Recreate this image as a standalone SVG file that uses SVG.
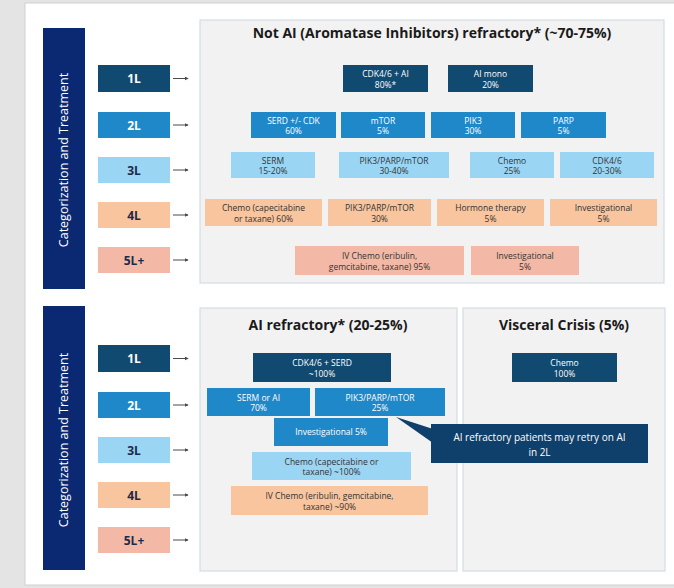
<svg xmlns="http://www.w3.org/2000/svg" width="674" height="588" viewBox="0 0 674 588">
<defs>
<style>
text{font-family:"Open Sans","Liberation Sans",Arial,sans-serif;text-anchor:middle}
.bar{fill:#0b2872}
.vt{fill:#fff;font-size:12.5px}
.panel{fill:#f2f2f2;stroke:#d3dde6;stroke-width:1.2}
.ptitle{font-weight:bold;fill:#1a1a1a;font-size:14px}
.ptitle2{font-weight:bold;fill:#1a1a1a;font-size:14px}
.lbl{font-weight:bold;font-size:12px}
.c1{fill:#114a70}
.c2{fill:#1f88c9}
.c3{fill:#9bd5f4}
.c4{fill:#f9c59e}
.c5{fill:#f3b9a6}
.tw{fill:#fff;font-size:8.5px}
.td{fill:#333;font-size:8.5px}
.lw{fill:#fff}
.ld{fill:#1b2a4a}
.conn{stroke:#4a4a4a;stroke-width:1;fill:none}
</style>
<marker id="ah" viewBox="0 0 6 6" refX="5" refY="3" markerWidth="4" markerHeight="4" orient="auto"><path d="M0,0L6,3L0,6z" fill="#4a4a4a"/></marker>
</defs>
<rect x="0" y="0" width="674" height="588" fill="#e4e4e4"/>
<rect x="25" y="3" width="652" height="582" fill="#ffffff" stroke="#d0d0d0"/>

<g id="sidebar-top"><rect class="bar" x="43" y="28" width="42" height="261"/><text class="vt" transform="translate(68,160) rotate(-90)">Categorization and Treatment</text></g>
<g id="sidebar-bottom"><rect class="bar" x="43" y="306" width="42" height="264"/><text class="vt" transform="translate(68,440) rotate(-90)">Categorization and Treatment</text></g>

<g id="panel-notai"><rect class="panel" x="200" y="20" width="464" height="263"/><text class="ptitle" x="432" y="38">Not AI (Aromatase Inhibitors) refractory* (~70-75%)</text></g>
<g id="panel-ai"><rect class="panel" x="200" y="308" width="257" height="263"/><text class="ptitle2" x="328" y="330">AI refractory* (20-25%)</text></g>
<g id="panel-visceral"><rect class="panel" x="463" y="308" width="202" height="263"/><text class="ptitle2" x="564" y="330">Visceral Crisis (5%)</text></g>

<g id="t1L"><rect class="c1" x="98" y="65" width="72" height="27"/><text class="lbl lw" x="134" y="83">1L</text></g>
<g id="t2L"><rect class="c2" x="98" y="112" width="72" height="26"/><text class="lbl lw" x="134" y="129.5">2L</text></g>
<g id="t3L"><rect class="c3" x="98" y="157" width="72" height="26"/><text class="lbl ld" x="134" y="174.5">3L</text></g>
<g id="t4L"><rect class="c4" x="98" y="202" width="72" height="26"/><text class="lbl ld" x="134" y="219.5">4L</text></g>
<g id="t5L"><rect class="c5" x="98" y="247" width="72" height="26"/><text class="lbl ld" x="134" y="264.5">5L+</text></g>

<g id="b1L"><rect class="c1" x="98" y="345" width="72" height="27"/><text class="lbl lw" x="134" y="363">1L</text></g>
<g id="b2L"><rect class="c2" x="98" y="392" width="72" height="26"/><text class="lbl lw" x="134" y="409.5">2L</text></g>
<g id="b3L"><rect class="c3" x="98" y="437" width="72" height="26"/><text class="lbl ld" x="134" y="454.5">3L</text></g>
<g id="b4L"><rect class="c4" x="98" y="482" width="72" height="26"/><text class="lbl ld" x="134" y="499.5">4L</text></g>
<g id="b5L"><rect class="c5" x="98" y="527" width="72" height="26"/><text class="lbl ld" x="134" y="544.5">5L+</text></g>

<g id="connectors">
<line class="conn" x1="173" y1="78.5" x2="188" y2="78.5" marker-end="url(#ah)"/>
<line class="conn" x1="173" y1="125" x2="188" y2="125" marker-end="url(#ah)"/>
<line class="conn" x1="173" y1="170" x2="188" y2="170" marker-end="url(#ah)"/>
<line class="conn" x1="173" y1="215" x2="188" y2="215" marker-end="url(#ah)"/>
<line class="conn" x1="173" y1="260" x2="188" y2="260" marker-end="url(#ah)"/>
<line class="conn" x1="173" y1="358.5" x2="188" y2="358.5" marker-end="url(#ah)"/>
<line class="conn" x1="173" y1="405" x2="188" y2="405" marker-end="url(#ah)"/>
<line class="conn" x1="173" y1="450" x2="188" y2="450" marker-end="url(#ah)"/>
<line class="conn" x1="173" y1="495" x2="188" y2="495" marker-end="url(#ah)"/>
<line class="conn" x1="173" y1="540" x2="188" y2="540" marker-end="url(#ah)"/>
</g>

<g id="n-cdk-ai"><rect class="c1" x="343" y="65" width="85" height="27"/><text class="tw" x="385.5" y="77">CDK4/6 + AI</text><text class="tw" x="385.5" y="87.5">80%*</text></g>
<g id="n-ai-mono"><rect class="c1" x="448" y="65" width="85" height="27"/><text class="tw" x="490.5" y="77">AI mono</text><text class="tw" x="490.5" y="87.5">20%</text></g>

<g id="n-serd"><rect class="c2" x="251" y="112" width="85" height="26"/><text class="tw" x="293.5" y="123.5">SERD +/- CDK</text><text class="tw" x="293.5" y="134">60%</text></g>
<g id="n-mtor"><rect class="c2" x="341" y="112" width="84" height="26"/><text class="tw" x="383" y="123.5">mTOR</text><text class="tw" x="383" y="134">5%</text></g>
<g id="n-pik3"><rect class="c2" x="431" y="112" width="84" height="26"/><text class="tw" x="473" y="123.5">PIK3</text><text class="tw" x="473" y="134">30%</text></g>
<g id="n-parp"><rect class="c2" x="521" y="112" width="85" height="26"/><text class="tw" x="563.5" y="123.5">PARP</text><text class="tw" x="563.5" y="134">5%</text></g>

<g id="n-serm"><rect class="c3" x="231" y="152" width="84" height="26"/><text class="td" x="273" y="163.5">SERM</text><text class="td" x="273" y="174">15-20%</text></g>
<g id="n-pik3-3"><rect class="c3" x="339" y="152" width="110" height="26"/><text class="td" x="394" y="163.5">PIK3/PARP/mTOR</text><text class="td" x="394" y="174">30-40%</text></g>
<g id="n-chemo3"><rect class="c3" x="470" y="152" width="84" height="26"/><text class="td" x="512" y="163.5">Chemo</text><text class="td" x="512" y="174">25%</text></g>
<g id="n-cdk3"><rect class="c3" x="560" y="152" width="94" height="26"/><text class="td" x="607" y="163.5">CDK4/6</text><text class="td" x="607" y="174">20-30%</text></g>

<g id="n-chemo4"><rect class="c4" x="205" y="199" width="117" height="27"/><text class="td" x="263.5" y="211">Chemo (capecitabine</text><text class="td" x="263.5" y="221.5">or taxane) 60%</text></g>
<g id="n-pik3-4"><rect class="c4" x="328" y="199" width="103" height="27"/><text class="td" x="379.5" y="211">PIK3/PARP/mTOR</text><text class="td" x="379.5" y="221.5">30%</text></g>
<g id="n-hormone"><rect class="c4" x="437" y="199" width="107" height="27"/><text class="td" x="490.5" y="211">Hormone therapy</text><text class="td" x="490.5" y="221.5">5%</text></g>
<g id="n-invest4"><rect class="c4" x="550" y="199" width="107" height="27"/><text class="td" x="603.5" y="211">Investigational</text><text class="td" x="603.5" y="221.5">5%</text></g>

<g id="n-ivchemo5"><rect class="c5" x="295" y="246" width="169" height="29"/><text class="td" x="379.5" y="259">IV Chemo (eribulin,</text><text class="td" x="379.5" y="269.5">gemcitabine, taxane) 95%</text></g>
<g id="n-invest5"><rect class="c5" x="471" y="246" width="108" height="29"/><text class="td" x="525" y="259">Investigational</text><text class="td" x="525" y="269.5">5%</text></g>

<g id="n-cdk-serd"><rect class="c1" x="253" y="353" width="138" height="29"/><text class="tw" x="322" y="366">CDK4/6 + SERD</text><text class="tw" x="322" y="376.5">~100%</text></g>
<g id="n-chemo-vc"><rect class="c1" x="512" y="353" width="105" height="29"/><text class="tw" x="564.5" y="366">Chemo</text><text class="tw" x="564.5" y="376.5">100%</text></g>

<g id="n-serm-ai"><rect class="c2" x="207" y="388" width="103" height="28"/><text class="tw" x="258.5" y="400.5">SERM or AI</text><text class="tw" x="258.5" y="411">70%</text></g>
<g id="n-pik3-b"><rect class="c2" x="315" y="388" width="130" height="28"/><text class="tw" x="380" y="400.5">PIK3/PARP/mTOR</text><text class="tw" x="380" y="411">25%</text></g>
<g id="n-invest-b"><rect class="c2" x="274" y="418" width="114" height="28"/><text class="tw" x="331" y="435">Investigational 5%</text></g>

<g id="n-chemo-b3"><rect class="c3" x="252" y="452" width="159" height="28"/><text class="td" x="331.5" y="464.5">Chemo (capecitabine or</text><text class="td" x="331.5" y="475">taxane) ~100%</text></g>
<g id="n-ivchemo-b4"><rect class="c4" x="231" y="486" width="197" height="29"/><text class="td" x="329.5" y="499">IV Chemo (eribulin, gemcitabine,</text><text class="td" x="329.5" y="509.5">taxane) ~90%</text></g>

<g id="callout"><polygon points="396,417 433,429 433,443" fill="#0f3f6b"/><rect x="431" y="424" width="217" height="39" fill="#0f3f6b"/><text class="tw" style="font-size:10px" x="539.5" y="441">AI refractory patients may retry on AI</text><text class="tw" style="font-size:10px" x="539.5" y="456">in 2L</text></g>
</svg>
